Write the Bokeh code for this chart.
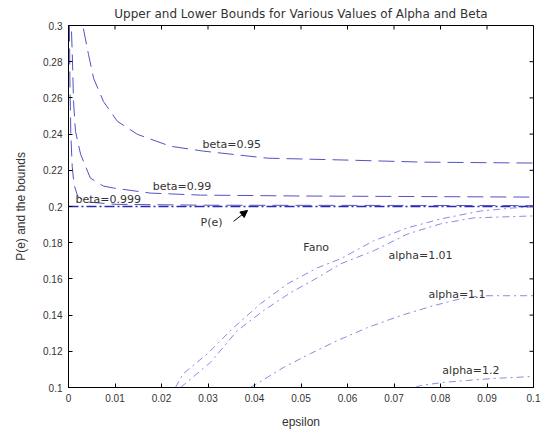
import math
from bokeh.plotting import figure
from bokeh.models import Arrow, NormalHead, ColumnDataSource, Range1d, FixedTicker
from bokeh.core.properties import value
from bokeh.embed import file_html
from bokeh.resources import INLINE

FONT = "Liberation Sans"
LFONT = "DejaVu Sans"

# ---- data ----
pe_eps = [0.0, 0.1]
pe_val = [0.2, 0.2]

b999_eps = [0.0002, 0.0003, 0.0005, 0.0008, 0.0012, 0.002, 0.004, 0.01, 0.03, 0.1]
b999_val = [0.300, 0.270, 0.240, 0.222, 0.212, 0.2055, 0.2025, 0.2012, 0.2007, 0.2005]

b99_eps = [0.00065, 0.00086, 0.00108, 0.0015, 0.0026, 0.0047, 0.0075, 0.0097, 0.0176, 0.0284, 0.0499, 0.0994]
b99_val = [0.2967, 0.2802, 0.2581, 0.2416, 0.2289, 0.2157, 0.2113, 0.2102, 0.2074, 0.2063, 0.2058, 0.2052]

b95_eps = [0.0032, 0.0043, 0.0054, 0.0075, 0.0105, 0.0148, 0.0219, 0.029, 0.0428, 0.0606, 0.0763, 0.1]
b95_val = [0.2983, 0.284, 0.2708, 0.2581, 0.2471, 0.2399, 0.2333, 0.2306, 0.2267, 0.2256, 0.2245, 0.224]

fano_eps = [0.023, 0.0247, 0.0299, 0.0355, 0.0413, 0.0471, 0.0535, 0.0585, 0.0656, 0.0729, 0.08, 0.0886, 0.0957, 0.1]
fano_val = [0.1, 0.1077, 0.1187, 0.1331, 0.1463, 0.1573, 0.1661, 0.1711, 0.1810, 0.1882, 0.1931, 0.1975, 0.1992, 0.1997]

a101_eps = [0.0241, 0.0305, 0.0363, 0.0419, 0.0477, 0.0535, 0.0585, 0.0656, 0.0729, 0.08, 0.0871, 0.1]
a101_val = [0.1, 0.1138, 0.1314, 0.1424, 0.1523, 0.1606, 0.1683, 0.1755, 0.1848, 0.1904, 0.1937, 0.1948]

a11_eps = [0.0391, 0.0406, 0.0462, 0.052, 0.0578, 0.0643, 0.0714, 0.0785, 0.0843, 0.0886, 0.1]
a11_val = [0.1, 0.1022, 0.111, 0.1187, 0.1259, 0.1331, 0.1397, 0.1452, 0.1490, 0.1507, 0.1507]

a12_eps = [0.0746, 0.0757, 0.0806, 0.0858, 0.0914, 0.1]
a12_val = [0.1, 0.1011, 0.1028, 0.1039, 0.105, 0.1061]

label_text = ["beta=0.95", "beta=0.99", "beta=0.999", "P(e)", "Fano", "alpha=1.01", "alpha=1.1", "alpha=1.2"]
label_x = [0.0288, 0.0181, 0.0015, 0.0284, 0.0505, 0.0688, 0.0774, 0.0804]
label_y = [0.2344, 0.2110, 0.2041, 0.1909, 0.1771, 0.1727, 0.1512, 0.1094]

arrow_start = (0.0355, 0.1918)
arrow_end = (0.0385, 0.1978)

x_ticks = [0, 0.01, 0.02, 0.03, 0.04, 0.05, 0.06, 0.07, 0.08, 0.09, 0.1]
x_tick_labels = ["0", "0.01", "0.02", "0.03", "0.04", "0.05", "0.06", "0.07", "0.08", "0.09", "0.1"]
y_ticks = [0.1, 0.12, 0.14, 0.16, 0.18, 0.2, 0.22, 0.24, 0.26, 0.28, 0.3]
y_tick_labels = ["0.1", "0.12", "0.14", "0.16", "0.18", "0.2", "0.22", "0.24", "0.26", "0.28", "0.3"]

X_MIN, X_MAX = 0.0, 0.1
Y_MIN, Y_MAX = 0.1, 0.3

# ---- figure ----
p = figure(width=545, height=433, output_backend="svg", toolbar_location=None,
           x_range=Range1d(X_MIN, X_MAX), y_range=Range1d(Y_MIN, Y_MAX),
           title="Upper and Lower Bounds for Various Values of Alpha and Beta",
           min_border_left=68, min_border_right=12, min_border_top=24, min_border_bottom=46)
p.title.align = "center"
p.title.text_font = LFONT
p.title.text_font_size = "12px"
p.title.text_font_style = "normal"
p.title.text_color = "#333333"
p.title.standoff = 9
p.title.offset = 0

p.xgrid.visible = False
p.ygrid.visible = False
p.outline_line_color = "black"
p.outline_line_width = 1
p.background_fill_color = "white"
p.border_fill_color = "white"

for ax, ticks, labs in ((p.xaxis[0], x_ticks, x_tick_labels), (p.yaxis[0], y_ticks, y_tick_labels)):
    ax.ticker = FixedTicker(ticks=ticks)
    ax.major_label_overrides = {t: l for t, l in zip(ticks, labs)}
    ax.major_tick_in = 4
    ax.major_tick_out = 0
    ax.minor_tick_line_color = None
    ax.major_label_text_font = FONT
    ax.major_label_text_font_size = "10px"
    ax.major_label_text_color = "#333333"
    ax.axis_label_text_font = FONT
    ax.axis_label_text_font_size = "12px"
    ax.axis_label_text_font_style = "normal"
    ax.axis_label_text_color = "#333333"
    ax.axis_line_color = "black"

p.xaxis.axis_label = "epsilon"
p.yaxis.axis_label = "P(e) and the bounds"
p.xaxis.major_label_standoff = 6
p.xaxis.axis_label_standoff = 10
p.yaxis.major_label_standoff = 6
p.yaxis.axis_label_standoff = 12

# inward ticks on top and right edges (half of each dash is clipped by the frame)
p.scatter(x=x_ticks, y=[Y_MAX] * len(x_ticks), marker="dash", size=8, angle=math.pi / 2,
          line_color="black", line_width=1)
p.scatter(x=[X_MAX] * len(y_ticks), y=y_ticks, marker="dash", size=8,
          line_color="black", line_width=1)

UP = "#5252c4"
LOW = "#8a8ae6"
p.line(pe_eps, pe_val, line_color="#2a2ab0", line_width=1.5, line_dash="10 3 2 3")
p.line(b999_eps, b999_val, line_color=UP, line_width=1, line_dash="16 7")
p.line(b99_eps, b99_val, line_color=UP, line_width=1, line_dash="16 7")
p.line(b95_eps, b95_val, line_color=UP, line_width=1, line_dash="16 7")
for xs, ys in ((fano_eps, fano_val), (a101_eps, a101_val), (a11_eps, a11_val), (a12_eps, a12_val)):
    p.line(xs, ys, line_color=LOW, line_width=1, line_dash="7 4 2 4")

src = ColumnDataSource(dict(x=label_x, y=label_y, t=label_text))
p.text(x="x", y="y", text="t", source=src, text_font=value(LFONT), text_font_size="11px",
       text_color="#333333", text_baseline="middle", text_align="left")

p.add_layout(Arrow(end=NormalHead(size=7, fill_color="black", line_color="black"),
                   x_start=arrow_start[0], y_start=arrow_start[1],
                   x_end=arrow_end[0], y_end=arrow_end[1], line_color="black", line_width=1))

open("out.html", "w").write(file_html(p, INLINE))
